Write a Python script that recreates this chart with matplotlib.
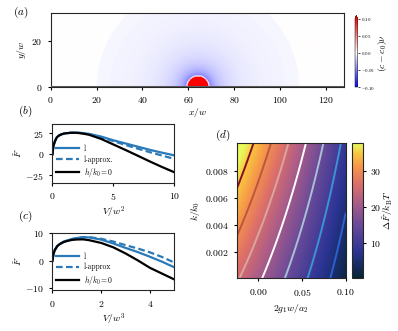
import numpy as np
import matplotlib
matplotlib.use("Agg")
import matplotlib.pyplot as plt
from matplotlib.colors import LinearSegmentedColormap

plt.rcParams['font.family'] = 'serif'
plt.rcParams['font.serif'] = ['cmr10', 'DejaVu Serif']
plt.rcParams['mathtext.fontset'] = 'cm'
plt.rcParams['axes.formatter.use_mathtext'] = True
plt.rcParams['font.size'] = 7
plt.rcParams['axes.linewidth'] = 0.8
plt.rcParams['axes.edgecolor'] = '0.15'
plt.rcParams['xtick.major.size'] = 2.5
plt.rcParams['ytick.major.size'] = 2.5

# ---- panel (a): droplet and depletion zone ----
box_x = 128
box_y = 32
drop_x = 64.0
drop_r = 4.6
depl_amp = -0.055     # (c - c0) nu just outside the droplet
depl_rmax = 44.0      # extent of the visible depletion zone
drop_val = 0.2

# ---- panel (b) ----
V2 = [0, 0.05, 0.1, 0.2, 0.35, 0.5, 0.75, 1, 1.5, 2, 2.5, 3, 4, 5, 6, 7, 8, 9, 10]
F2_zero = [0, 7, 11, 15.5, 20, 22, 23.8, 24.8, 25.5, 25.5, 24.6, 23.2, 18.2, 11.6, 5, -1.8, -8.7, -15.3, -21.5]
F2_l = [0, 7, 11, 15.5, 20, 22, 23.8, 24.8, 25.6, 25.8, 25.2, 24.3, 21, 16.6, 12.8, 9, 5.2, 1.8, -1.4]
F2_lapp = [0, 7, 11, 15.5, 20, 22, 23.8, 24.8, 25.6, 25.7, 25, 23.9, 20.2, 15.6, 11, 6.6, 2.4, -1.6, -5.6]

# ---- panel (c) ----
V3 = [0, 0.03, 0.06, 0.1, 0.2, 0.3, 0.45, 0.6, 0.8, 1, 1.25, 1.5, 2, 2.5, 3, 3.5, 4, 4.5, 5]
F3_zero = [0, 2.0, 3.0, 3.9, 5.3, 6.0, 6.7, 7.1, 7.5, 7.65, 7.7, 7.4, 6.4, 4.8, 2.6, 0.1, -2.6, -4.7, -6.8]
F3_l = [0, 2.0, 3.0, 3.9, 5.3, 6.0, 6.8, 7.3, 7.8, 8.2, 8.45, 8.4, 7.6, 6.2, 4.6, 3.1, 1.4, -0.4, -2.4]
F3_lapp = [0, 2.0, 3.0, 3.9, 5.3, 6.0, 6.8, 7.3, 7.8, 8.2, 8.5, 8.5, 7.9, 6.9, 5.6, 4.4, 3.0, 1.3, -0.7]

# ---- panel (d): barrier height, corner values ----
g_lim = [-0.025, 0.1]
k_lim = [0.0001, 0.01]
dF_corners = [[25.6, 1.6],    # k at bottom: left, right
              [39.8, 8.6]]    # k at top: left, right
dF_levels = [5, 10, 15, 20, 25, 30, 35]
level_colors = ['#2a62d2', '#3b93d6', '#a6c2d4', '#ffffff', '#d9a79c', '#b9573f', '#8a0c22']

thermal = LinearSegmentedColormap.from_list('thermal_like', [
    (0.0, '#042333'), (0.2, '#2b3494'), (0.4, '#6d4a98'), (0.56, '#aa5c88'),
    (0.7, '#dc6e6a'), (0.82, '#f5924a'), (0.92, '#f8c23f'), (1.0, '#e8fa5b')])

fig = plt.figure(figsize=(3.98, 3.31), dpi=100)

# (a)
ax_a = fig.add_axes([0.1214, 0.738, 0.7497, 0.2218])
step = 0.25
xc = np.arange(0, box_x, step) + step / 2
yc = np.arange(0, box_y, step) + step / 2
X, Y = np.meshgrid(xc, yc)
r = np.hypot(X - drop_x, Y)
conc = depl_amp * (drop_r / np.maximum(r, drop_r)) ** 1.25
conc[r > depl_rmax] = 0.0
# thin white rim where the droplet meets the depleted fluid
conc[(r >= drop_r) & (r < drop_r + 0.5)] = 0.0
conc[r < drop_r] = drop_val
im = ax_a.imshow(conc, origin='lower', extent=[0, box_x, 0, box_y], cmap='bwr',
                 vmin=-0.1, vmax=0.1, interpolation='bilinear', aspect='equal')
ax_a.axhline(0, color='0.35', lw=2.2, zorder=3)
ax_a.set_xticks([0, 20, 40, 60, 80, 100, 120])
ax_a.set_yticks([0, 20])
ax_a.set_xlabel(r'$x/w$', labelpad=1)
ax_a.set_ylabel(r'$y/w$', labelpad=2)
cax_a = fig.add_axes([0.892, 0.737, 0.0065, 0.217])
cb_a = fig.colorbar(im, cax=cax_a, extend='max', extendfrac=0.05)
cb_a.set_ticks([-0.1, -0.05, 0, 0.05, 0.1])
cb_a.set_ticklabels([r'$-0.10$', r'$-0.05$', r'$0.00$', r'$0.05$', r'$0.10$'])
cb_a.ax.tick_params(labelsize=3.5, length=1.2, width=0.5, pad=1)
cb_a.outline.set_linewidth(0.4)
cb_a.set_label(r'$(c-c_0)\nu$', fontsize=7, labelpad=1)

blue = '#2a7ab9'

# (b)
ax_b = fig.add_axes([0.1319, 0.448, 0.306, 0.1773])
ax_b.plot(V2, F2_l, color=blue, lw=1.6, label='l')
ax_b.plot(V2, F2_lapp, color=blue, lw=1.6, ls=(0, (3, 1.5)), label='l-approx.')
ax_b.plot(V2, F2_zero, color='k', lw=1.6, label=r'$h/k_0=0$')
ax_b.set_xlim(0, 10)
ax_b.set_ylim(-34, 36)
ax_b.set_xticks([0, 5, 10])
ax_b.set_yticks([-25, 0, 25])
ax_b.set_xlabel(r'$V/w^2$', labelpad=2)
ax_b.set_ylabel(r'$\tilde F$', labelpad=1)
ax_b.legend(loc='lower left', frameon=False, fontsize=5.5, handlelength=3,
            borderaxespad=0.1, labelspacing=0.3, handletextpad=0.6)

# (c)
ax_c = fig.add_axes([0.1319, 0.1224, 0.306, 0.1737])
ax_c.plot(V3, F3_l, color=blue, lw=1.6, label='l')
ax_c.plot(V3, F3_lapp, color=blue, lw=1.6, ls=(0, (3, 1.5)), label='l-approx')
ax_c.plot(V3, F3_zero, color='k', lw=1.6, label=r'$h/k_0=0$')
ax_c.set_xlim(0, 5)
ax_c.set_ylim(-10.8, 10)
ax_c.set_xticks([0, 2, 4])
ax_c.set_yticks([-10, 0, 10])
ax_c.set_xlabel(r'$V/w^3$', labelpad=2)
ax_c.set_ylabel(r'$\tilde F$', labelpad=1)
ax_c.legend(loc='lower left', frameon=False, fontsize=5.5, handlelength=3,
            borderaxespad=0.1, labelspacing=0.3, handletextpad=0.6)

# (d)
ax_d = fig.add_axes([0.5947, 0.1592, 0.2739, 0.4079])
g = np.linspace(g_lim[0], g_lim[1], 200)
k = np.linspace(k_lim[0], k_lim[1], 200)
G, K = np.meshgrid(g, k)
tg = (G - g_lim[0]) / (g_lim[1] - g_lim[0])
tk = (K - k_lim[0]) / (k_lim[1] - k_lim[0])
c = np.array(dF_corners)
dF = (c[0, 0] * (1 - tg) * (1 - tk) + c[0, 1] * tg * (1 - tk)
      + c[1, 0] * (1 - tg) * tk + c[1, 1] * tg * tk)
pm = ax_d.pcolormesh(G, K, dF, cmap=thermal, vmin=0.1, vmax=37.6, shading='auto')
ax_d.contour(G, K, dF, levels=dF_levels, colors=level_colors, linewidths=1.4)
ax_d.set_xlim(g_lim)
ax_d.set_ylim(k_lim)
ax_d.set_xticks([0, 0.05, 0.1])
ax_d.set_xticklabels([r'$0.00$', r'$0.05$', r'$0.10$'])
ax_d.set_yticks([0.002, 0.004, 0.006, 0.008])
ax_d.set_yticklabels([r'$0.002$', r'$0.004$', r'$0.006$', r'$0.008$'])
ax_d.set_xlabel(r'$2g_1w/a_2$', labelpad=3)
ax_d.set_ylabel(r'$k/k_0$', labelpad=2)
cax_d = fig.add_axes([0.8852, 0.1592, 0.0276, 0.4079])
cb_d = fig.colorbar(pm, cax=cax_d)
cb_d.set_ticks([10, 20, 30])
cb_d.ax.tick_params(length=2.5, pad=2)
cb_d.set_label(r'$\Delta\tilde F/k_{\rm B}T$', labelpad=0)

fig.text(0.033, 0.962, r'$(a)$', fontsize=8, va='center')
fig.text(0.045, 0.665, r'$(b)$', fontsize=8, va='center')
fig.text(0.045, 0.345, r'$(c)$', fontsize=8, va='center')
fig.text(0.54, 0.592, r'$(d)$', fontsize=8, va='center')

fig.savefig('out.png', dpi=100)
